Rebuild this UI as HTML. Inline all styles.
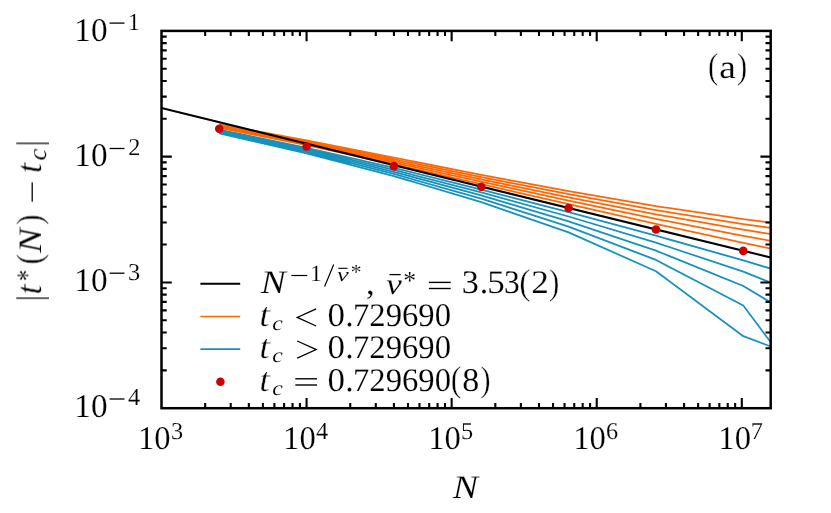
<!DOCTYPE html>
<html><head><meta charset="utf-8"><title>fig</title>
<style>html,body{margin:0;padding:0;background:#fff;}svg{display:block;}text{text-rendering:geometricPrecision;}body{font-family:"Liberation Serif",serif;}</style></head>
<body>
<svg width="831" height="513" viewBox="0 0 831 513" font-family="'Liberation Serif', serif">
<rect width="831" height="513" fill="#fff"/>
<g opacity="0.999">
<defs><clipPath id="ax"><rect x="161.5" y="30.9" width="609.2" height="377.3"/></clipPath></defs>
<g clip-path="url(#ax)" fill="none" stroke-linejoin="round">
<polygon points="219.23,133.51 306.57,153.29 350.25,164.69 350.25,157.88 306.57,147.79 219.23,129.63" fill="#1792bd" stroke="none"/>
<polyline points="219.23,129.63 306.57,147.79 393.92,167.96 481.26,189.54 568.61,212.08 655.95,235.67 743.29,260.30 830.64,286.89" stroke="#1792bd" stroke-width="1.75"/>
<polyline points="219.23,130.57 306.57,149.11 393.92,169.88 481.26,192.42 568.61,216.50 655.95,242.63 743.29,271.65 830.64,306.80" stroke="#1792bd" stroke-width="1.75"/>
<polyline points="219.23,131.54 306.57,150.47 393.92,171.88 481.26,195.46 568.61,221.30 655.95,250.60 743.29,286.00 830.64,338.45" stroke="#1792bd" stroke-width="1.75"/>
<polyline points="219.23,132.52 306.57,151.86 393.92,173.95 481.26,198.68 568.61,226.57 655.95,259.94 743.29,305.52 830.64,422.41" stroke="#1792bd" stroke-width="1.75"/>
<polyline points="219.23,133.51 306.57,153.29 393.92,176.10 481.26,202.10 568.61,232.40 655.95,271.21 743.29,336.19 830.64,369.15" stroke="#1792bd" stroke-width="1.75"/>
<polygon points="219.23,124.28 306.57,140.46 393.92,157.65 393.92,164.30 306.57,145.24 219.23,127.79" fill="#ff6703" stroke="none"/>
<polyline points="219.23,127.79 306.57,145.24 393.92,164.30 481.26,184.19 568.61,204.20 655.95,223.96 743.29,242.89 830.64,260.85" stroke="#ff6703" stroke-width="1.75"/>
<polyline points="219.23,126.89 306.57,144.01 393.92,162.56 481.26,181.71 568.61,200.65 655.95,218.93 743.29,235.90 830.64,251.37" stroke="#ff6703" stroke-width="1.75"/>
<polyline points="219.23,126.00 306.57,142.80 393.92,160.88 481.26,179.33 568.61,197.31 655.95,214.32 743.29,229.70 830.64,243.29" stroke="#ff6703" stroke-width="1.75"/>
<polyline points="219.23,125.13 306.57,141.62 393.92,159.24 481.26,177.05 568.61,194.17 655.95,210.07 743.29,224.14 830.64,236.25" stroke="#ff6703" stroke-width="1.75"/>
<polyline points="219.23,124.28 306.57,140.46 393.92,157.65 481.26,174.86 568.61,191.19 655.95,206.13 743.29,219.09 830.64,230.02" stroke="#ff6703" stroke-width="1.75"/>
<line x1="161.5"  y1="108.1" x2="770.7" y2="257.6" stroke="#000" stroke-width="2.1"/>
</g>
<circle cx="219.23" cy="128.70" r="4.3" fill="#cc0000"/>
<circle cx="306.57" cy="146.50" r="4.3" fill="#cc0000"/>
<circle cx="393.92" cy="166.10" r="4.3" fill="#cc0000"/>
<circle cx="481.26" cy="186.80" r="4.3" fill="#cc0000"/>
<circle cx="568.61" cy="208.00" r="4.3" fill="#cc0000"/>
<circle cx="655.95" cy="229.50" r="4.3" fill="#cc0000"/>
<circle cx="743.29" cy="250.90" r="4.3" fill="#cc0000"/>
<path d="M205.17,408.2v-5.2M205.17,30.9v5.2M230.72,408.2v-5.2M230.72,30.9v5.2M248.84,408.2v-5.2M248.84,30.9v5.2M262.90,408.2v-5.2M262.90,30.9v5.2M274.39,408.2v-5.2M274.39,30.9v5.2M284.10,408.2v-5.2M284.10,30.9v5.2M292.52,408.2v-5.2M292.52,30.9v5.2M299.94,408.2v-5.2M299.94,30.9v5.2M306.57,408.2v-10.3M306.57,30.9v10.3M350.25,408.2v-5.2M350.25,30.9v5.2M375.79,408.2v-5.2M375.79,30.9v5.2M393.92,408.2v-5.2M393.92,30.9v5.2M407.98,408.2v-5.2M407.98,30.9v5.2M419.47,408.2v-5.2M419.47,30.9v5.2M429.18,408.2v-5.2M429.18,30.9v5.2M437.59,408.2v-5.2M437.59,30.9v5.2M445.01,408.2v-5.2M445.01,30.9v5.2M451.65,408.2v-10.3M451.65,30.9v10.3M495.32,408.2v-5.2M495.32,30.9v5.2M520.87,408.2v-5.2M520.87,30.9v5.2M538.99,408.2v-5.2M538.99,30.9v5.2M553.05,408.2v-5.2M553.05,30.9v5.2M564.54,408.2v-5.2M564.54,30.9v5.2M574.25,408.2v-5.2M574.25,30.9v5.2M582.67,408.2v-5.2M582.67,30.9v5.2M590.09,408.2v-5.2M590.09,30.9v5.2M596.72,408.2v-10.3M596.72,30.9v10.3M640.40,408.2v-5.2M640.40,30.9v5.2M665.94,408.2v-5.2M665.94,30.9v5.2M684.07,408.2v-5.2M684.07,30.9v5.2M698.13,408.2v-5.2M698.13,30.9v5.2M709.62,408.2v-5.2M709.62,30.9v5.2M719.33,408.2v-5.2M719.33,30.9v5.2M727.74,408.2v-5.2M727.74,30.9v5.2M735.16,408.2v-5.2M735.16,30.9v5.2M741.80,408.2v-10.3M741.80,30.9v10.3M161.5,370.34h5.2M770.7,370.34h-5.2M161.5,348.19h5.2M770.7,348.19h-5.2M161.5,332.48h5.2M770.7,332.48h-5.2M161.5,320.29h5.2M770.7,320.29h-5.2M161.5,310.33h5.2M770.7,310.33h-5.2M161.5,301.91h5.2M770.7,301.91h-5.2M161.5,294.62h5.2M770.7,294.62h-5.2M161.5,288.19h5.2M770.7,288.19h-5.2M161.5,282.43h10.3M770.7,282.43h-10.3M161.5,244.57h5.2M770.7,244.57h-5.2M161.5,222.43h5.2M770.7,222.43h-5.2M161.5,206.71h5.2M770.7,206.71h-5.2M161.5,194.53h5.2M770.7,194.53h-5.2M161.5,184.57h5.2M770.7,184.57h-5.2M161.5,176.15h5.2M770.7,176.15h-5.2M161.5,168.85h5.2M770.7,168.85h-5.2M161.5,162.42h5.2M770.7,162.42h-5.2M161.5,156.67h10.3M770.7,156.67h-10.3M161.5,118.81h5.2M770.7,118.81h-5.2M161.5,96.66h5.2M770.7,96.66h-5.2M161.5,80.95h5.2M770.7,80.95h-5.2M161.5,68.76h5.2M770.7,68.76h-5.2M161.5,58.80h5.2M770.7,58.80h-5.2M161.5,50.38h5.2M770.7,50.38h-5.2M161.5,43.09h5.2M770.7,43.09h-5.2M161.5,36.65h5.2M770.7,36.65h-5.2" stroke="#000" stroke-width="2.1" fill="none"/>
<rect x="161.5" y="30.9" width="609.20" height="377.30" fill="none" stroke="#000" stroke-width="2.5"/>
<text transform="translate(74.27,41.00) scale(1.0089,1.0000)" font-size="33" fill="#000" stroke="#fff" stroke-width="0.12">10</text>
<line x1="109.60" y1="23.10" x2="124.50" y2="23.10" stroke="#000" stroke-width="1.3"/>
<text transform="translate(127.79,29.50) scale(1.0000,1.0000)" font-size="24.3" fill="#000" stroke="#fff" stroke-width="0.12">1</text>
<text transform="translate(74.27,166.40) scale(1.0089,1.0000)" font-size="33" fill="#000" stroke="#fff" stroke-width="0.12">10</text>
<line x1="109.60" y1="148.50" x2="124.50" y2="148.50" stroke="#000" stroke-width="1.3"/>
<text transform="translate(128.26,154.90) scale(1.0000,1.0000)" font-size="24.3" fill="#000" stroke="#fff" stroke-width="0.12">2</text>
<text transform="translate(74.27,291.10) scale(1.0089,1.0000)" font-size="33" fill="#000" stroke="#fff" stroke-width="0.12">10</text>
<line x1="109.60" y1="273.20" x2="124.50" y2="273.20" stroke="#000" stroke-width="1.3"/>
<text transform="translate(128.02,279.60) scale(1.0000,1.0000)" font-size="24.3" fill="#000" stroke="#fff" stroke-width="0.12">3</text>
<text transform="translate(74.27,416.90) scale(1.0089,1.0000)" font-size="33" fill="#000" stroke="#fff" stroke-width="0.12">10</text>
<line x1="109.60" y1="399.00" x2="124.50" y2="399.00" stroke="#000" stroke-width="1.3"/>
<text transform="translate(128.08,405.40) scale(1.0000,1.0000)" font-size="24.3" fill="#000" stroke="#fff" stroke-width="0.12">4</text>
<text transform="translate(138.03,449.20) scale(0.9881,1.0000)" font-size="33" fill="#000" stroke="#fff" stroke-width="0.12">10</text>
<text transform="translate(170.92,438.70) scale(1.0000,1.0000)" font-size="24.3" fill="#000" stroke="#fff" stroke-width="0.12">3</text>
<text transform="translate(283.11,449.20) scale(0.9881,1.0000)" font-size="33" fill="#000" stroke="#fff" stroke-width="0.12">10</text>
<text transform="translate(316.05,438.70) scale(1.0000,1.0000)" font-size="24.3" fill="#000" stroke="#fff" stroke-width="0.12">4</text>
<text transform="translate(428.18,449.20) scale(0.9881,1.0000)" font-size="33" fill="#000" stroke="#fff" stroke-width="0.12">10</text>
<text transform="translate(460.94,438.70) scale(1.0000,1.0000)" font-size="24.3" fill="#000" stroke="#fff" stroke-width="0.12">5</text>
<text transform="translate(573.26,449.20) scale(0.9881,1.0000)" font-size="33" fill="#000" stroke="#fff" stroke-width="0.12">10</text>
<text transform="translate(606.09,438.70) scale(1.0000,1.0000)" font-size="24.3" fill="#000" stroke="#fff" stroke-width="0.12">6</text>
<text transform="translate(718.33,449.20) scale(0.9881,1.0000)" font-size="33" fill="#000" stroke="#fff" stroke-width="0.12">10</text>
<text transform="translate(750.87,438.70) scale(1.0000,1.0000)" font-size="24.3" fill="#000" stroke="#fff" stroke-width="0.12">7</text>
<text transform="translate(452.68,497.70) scale(1.1521,1.0000)" font-size="33" font-style="italic" fill="#000" stroke="#fff" stroke-width="0.12">N</text>
<g transform="translate(41,297.5) rotate(-90)">
<line x1="-0.60" y1="-24.70" x2="-0.60" y2="8.00" stroke="#000" stroke-width="1.25" stroke-linecap="butt"/>
<text transform="translate(2.92,0.00) scale(1.0861,1.1000)" font-size="33" font-style="italic" fill="#000" stroke="#fff" stroke-width="0.35">t</text>
<text transform="translate(16.56,-4.00) scale(0.7501,1.0000)" font-size="29.75" fill="#000" stroke="#fff" stroke-width="0.12">*</text>
<text transform="translate(32.90,0.30) scale(0.9675,1.0900)" font-size="33" fill="#000" stroke="#fff" stroke-width="0.4">(</text>
<text transform="translate(44.57,0.00) scale(1.1268,1.0000)" font-size="33" font-style="italic" fill="#000" stroke="#fff" stroke-width="0.12">N</text>
<text transform="translate(72.71,0.30) scale(0.9321,1.0900)" font-size="33" fill="#000" stroke="#fff" stroke-width="0.4">)</text>
<line x1="95.80" y1="-8.80" x2="115.10" y2="-8.80" stroke="#000" stroke-width="1.3"/>
<text transform="translate(124.37,0.00) scale(1.1219,1.1000)" font-size="33" font-style="italic" fill="#000" stroke="#fff" stroke-width="0.35">t</text>
<text transform="translate(136.97,5.30) scale(1.1278,1.0800)" font-size="23.8" font-style="italic" fill="#000" stroke="#fff" stroke-width="0.12">c</text>
<line x1="154.15" y1="-24.70" x2="154.15" y2="8.00" stroke="#000" stroke-width="1.25" stroke-linecap="butt"/>
</g>
<text transform="translate(707.95,78.30) scale(0.9321,1.0900)" font-size="33" fill="#000" stroke="#fff" stroke-width="0.4">(</text>
<text transform="translate(719.28,78.00) scale(1.1353,1.0000)" font-size="33" fill="#000" stroke="#fff" stroke-width="0.12">a</text>
<text transform="translate(737.01,78.30) scale(0.9321,1.0900)" font-size="33" fill="#000" stroke="#fff" stroke-width="0.4">)</text>
<line x1="200.40" y1="283.80" x2="240.20" y2="283.80" stroke="#000" stroke-width="2.0" stroke-linecap="butt"/>
<line x1="200.40" y1="316.45" x2="240.20" y2="316.45" stroke="#ff6703" stroke-width="1.65" stroke-linecap="butt"/>
<line x1="200.40" y1="349.15" x2="240.20" y2="349.15" stroke="#1792bd" stroke-width="1.65" stroke-linecap="butt"/>
<circle cx="220.4" cy="381.7" r="4.3" fill="#cc0000"/>
<text transform="translate(260.87,293.40) scale(1.1353,1.0000)" font-size="33" font-style="italic" fill="#000" stroke="#fff" stroke-width="0.12">N</text>
<line x1="291.40" y1="275.50" x2="307.30" y2="275.50" stroke="#000" stroke-width="1.2"/>
<text transform="translate(309.90,281.40) scale(1.0285,1.0000)" font-size="23.2" fill="#000" stroke="#fff" stroke-width="0.12">1</text>
<line x1="324.60" y1="286.60" x2="333.70" y2="264.40" stroke="#000" stroke-width="1.2" stroke-linecap="butt"/>
<text transform="translate(336.83,281.20) scale(1.3736,1.0000)" font-size="19.8" font-style="italic" fill="#000" stroke="#fff" stroke-width="0.12">ν</text>
<line x1="338.30" y1="268.30" x2="347.50" y2="268.30" stroke="#000" stroke-width="1.1"/>
<text transform="translate(350.70,278.90) scale(1.0033,1.0000)" font-size="21.5" fill="#000" stroke="#fff" stroke-width="0.12">*</text>
<text transform="translate(366.07,294.00) scale(1.0581,1.0000)" font-size="33" fill="#000" stroke="#fff" stroke-width="0.12">,</text>
<text transform="translate(386.22,294.30) scale(1.1899,1.0000)" font-size="29.5" font-style="italic" fill="#000" stroke="#fff" stroke-width="0.12">ν</text>
<line x1="389.50" y1="274.60" x2="400.70" y2="274.60" stroke="#000" stroke-width="1.3"/>
<text transform="translate(403.34,289.10) scale(0.9918,1.0000)" font-size="26" fill="#000" stroke="#fff" stroke-width="0.12">*</text>
<line x1="428.90" y1="282.40" x2="450.70" y2="282.40" stroke="#000" stroke-width="1.4"/>
<line x1="428.90" y1="288.50" x2="450.70" y2="288.50" stroke="#000" stroke-width="1.4"/>
<text transform="translate(461.77,293.40) scale(1.0343,1.0000)" font-size="33" fill="#000" stroke="#fff" stroke-width="0.12">3</text>
<text transform="translate(479.77,293.40) scale(1.0258,1.0000)" font-size="33" fill="#000" stroke="#fff" stroke-width="0.12">.</text>
<text transform="translate(487.37,293.40) scale(1.0607,1.0000)" font-size="33" fill="#000" stroke="#fff" stroke-width="0.12">5</text>
<text transform="translate(504.09,293.40) scale(0.9536,1.0000)" font-size="33" fill="#000" stroke="#fff" stroke-width="0.12">3</text>
<text transform="translate(519.33,293.70) scale(1.0147,1.0900)" font-size="33" fill="#000" stroke="#fff" stroke-width="0.4">(</text>
<text transform="translate(531.15,293.40) scale(1.0658,1.0000)" font-size="33" fill="#000" stroke="#fff" stroke-width="0.12">2</text>
<text transform="translate(549.00,293.70) scale(0.9439,1.0900)" font-size="33" fill="#000" stroke="#fff" stroke-width="0.4">)</text>
<text transform="translate(259.34,325.70) scale(1.1457,1.0300)" font-size="33" font-style="italic" fill="#000" stroke="#fff" stroke-width="0.35">t</text>
<text transform="translate(272.27,330.20) scale(1.1639,1.0000)" font-size="20.5" font-style="italic" fill="#000" stroke="#fff" stroke-width="0.12">c</text>
<polyline points="316.2,308.79999999999995 297.2,317.4 316.2,326.0" fill="none" stroke="#000" stroke-width="1.3" stroke-linejoin="miter" stroke-miterlimit="10"/>
<text transform="translate(327.47,325.70) scale(1.0582,1.0000)" font-size="33" fill="#000" stroke="#fff" stroke-width="0.12">0</text>
<text transform="translate(345.37,325.70) scale(1.0258,1.0000)" font-size="33" fill="#000" stroke="#fff" stroke-width="0.12">.</text>
<text transform="translate(353.05,325.70) scale(0.9888,1.0000)" font-size="33" fill="#000" stroke="#fff" stroke-width="0.12">729690</text>
<text transform="translate(259.34,357.90) scale(1.1457,1.0300)" font-size="33" font-style="italic" fill="#000" stroke="#fff" stroke-width="0.35">t</text>
<text transform="translate(272.27,362.40) scale(1.1639,1.0000)" font-size="20.5" font-style="italic" fill="#000" stroke="#fff" stroke-width="0.12">c</text>
<polyline points="297.2,340.99999999999994 316.2,349.59999999999997 297.2,358.2" fill="none" stroke="#000" stroke-width="1.3" stroke-linejoin="miter" stroke-miterlimit="10"/>
<text transform="translate(327.47,357.90) scale(1.0582,1.0000)" font-size="33" fill="#000" stroke="#fff" stroke-width="0.12">0</text>
<text transform="translate(345.37,357.90) scale(1.0258,1.0000)" font-size="33" fill="#000" stroke="#fff" stroke-width="0.12">.</text>
<text transform="translate(353.05,357.90) scale(0.9888,1.0000)" font-size="33" fill="#000" stroke="#fff" stroke-width="0.12">729690</text>
<text transform="translate(259.34,390.60) scale(1.1457,1.0300)" font-size="33" font-style="italic" fill="#000" stroke="#fff" stroke-width="0.35">t</text>
<text transform="translate(272.27,395.10) scale(1.1639,1.0000)" font-size="20.5" font-style="italic" fill="#000" stroke="#fff" stroke-width="0.12">c</text>
<line x1="295.30" y1="378.80" x2="317.00" y2="378.80" stroke="#000" stroke-width="1.4"/>
<line x1="295.30" y1="385.00" x2="317.00" y2="385.00" stroke="#000" stroke-width="1.4"/>
<text transform="translate(327.47,390.60) scale(1.0582,1.0000)" font-size="33" fill="#000" stroke="#fff" stroke-width="0.12">0</text>
<text transform="translate(345.37,390.60) scale(1.0258,1.0000)" font-size="33" fill="#000" stroke="#fff" stroke-width="0.12">.</text>
<text transform="translate(353.05,390.60) scale(0.9888,1.0000)" font-size="33" fill="#000" stroke="#fff" stroke-width="0.12">729690</text>
<text transform="translate(450.80,390.90) scale(0.9675,1.0900)" font-size="33" fill="#000" stroke="#fff" stroke-width="0.4">(</text>
<text transform="translate(462.31,390.60) scale(1.0296,1.0000)" font-size="33" fill="#000" stroke="#fff" stroke-width="0.12">8</text>
<text transform="translate(480.20,390.90) scale(0.9439,1.0900)" font-size="33" fill="#000" stroke="#fff" stroke-width="0.4">)</text>
</g>
</svg>
</body></html>
